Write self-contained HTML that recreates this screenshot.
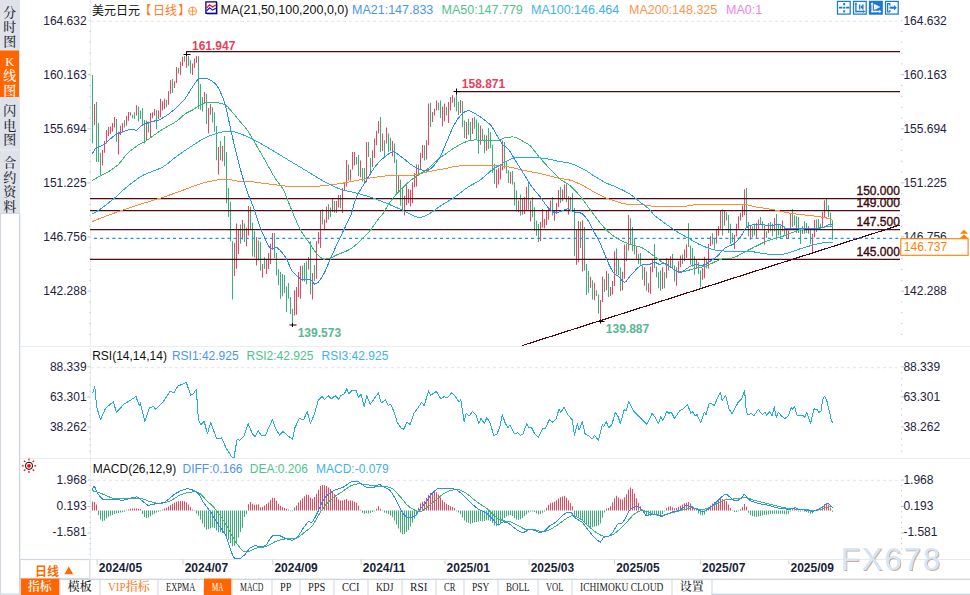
<!DOCTYPE html><html><head><meta charset="utf-8"><title>USDJPY</title><style>html,body{margin:0;padding:0;background:#fff;width:970px;height:595px;overflow:hidden}</style></head><body><svg width="970" height="595" viewBox="0 0 970 595" style="position:absolute;left:0;top:0">
<rect width="970" height="595" fill="#fff"/>
<rect x="0" y="0" width="20" height="595" fill="#fff"/>
<rect x="0" y="0" width="19.5" height="213.5" fill="#e0e2ea"/>
<rect x="0" y="50.5" width="19.5" height="46.5" fill="#ff6600"/>
<rect x="0" y="149.5" width="19.5" height="1" fill="#eef0f4"/>
<rect x="0" y="213.5" width="1" height="381" fill="#cfd6e2"/>
<rect x="19" y="213.5" width="1.3" height="381" fill="#cdd5e1"/>
<rect x="19" y="0" width="1" height="213.5" fill="#dfe3ea"/>
<rect x="0" y="213" width="20" height="1" fill="#cfd6e2"/>
<rect x="0" y="593.5" width="20" height="1.2" fill="#cfd6e2"/>
<text text-anchor="middle" font-size="13" font-weight="500" fill="#262b36" font-family="'Liberation Serif','Noto Serif CJK SC',serif"><tspan x="9.7" y="16.7">分</tspan><tspan x="9.7" y="31">时</tspan><tspan x="9.7" y="45.7">图</tspan></text>
<text text-anchor="middle" font-size="13" font-weight="500" fill="#fff" font-family="'Liberation Serif','Noto Serif CJK SC',serif"><tspan x="9.7" y="66" font-size="12.5" font-weight="400">K</tspan><tspan x="9.7" y="80.4">线</tspan><tspan x="9.7" y="94.7">图</tspan></text>
<text text-anchor="middle" font-size="13" font-weight="500" fill="#262b36" font-family="'Liberation Serif','Noto Serif CJK SC',serif"><tspan x="9.7" y="115.2">闪</tspan><tspan x="9.7" y="129.7">电</tspan><tspan x="9.7" y="144.2">图</tspan></text>
<text text-anchor="middle" font-size="13" font-weight="500" fill="#262b36" font-family="'Liberation Serif','Noto Serif CJK SC',serif"><tspan x="9.7" y="167.2">合</tspan><tspan x="9.7" y="181.7">约</tspan><tspan x="9.7" y="196.2">资</tspan><tspan x="9.7" y="210.7">料</tspan></text>
<rect x="20" y="346" width="950" height="1" fill="#e8edf2"/>
<rect x="20" y="458" width="950" height="1" fill="#e8edf2"/>
<rect x="20" y="559" width="950" height="1" fill="#e4eaf0"/>
<rect x="20" y="578.7" width="950" height="1.2" fill="#c9d1db"/>
<rect x="711.5" y="593.7" width="259" height="1.2" fill="#c4ccd6"/>
<line x1="91" x2="897" y1="21.4" y2="21.4" stroke="#e3e9ee" stroke-width="1.1" stroke-dasharray="3 3"/>
<line x1="91" x2="897" y1="367.6" y2="367.6" stroke="#e3e9ee" stroke-width="1.1" stroke-dasharray="3 3"/>
<line x1="91" x2="897" y1="480.4" y2="480.4" stroke="#e3e9ee" stroke-width="1.1" stroke-dasharray="3 3"/>
<rect x="90" y="0" width="1" height="559" fill="#e9eef3"/>
<rect x="89.3" y="20.1" width="1.2" height="1" fill="#b9c4d0"/>
<rect x="901" y="20.1" width="1.2" height="1" fill="#b9c4d0"/>
<rect x="89.3" y="30.9" width="1.2" height="1" fill="#b9c4d0"/>
<rect x="901" y="30.9" width="1.2" height="1" fill="#b9c4d0"/>
<rect x="89.3" y="41.7" width="1.2" height="1" fill="#b9c4d0"/>
<rect x="901" y="41.7" width="1.2" height="1" fill="#b9c4d0"/>
<rect x="89.3" y="52.6" width="1.2" height="1" fill="#b9c4d0"/>
<rect x="901" y="52.6" width="1.2" height="1" fill="#b9c4d0"/>
<rect x="89.3" y="63.4" width="1.2" height="1" fill="#b9c4d0"/>
<rect x="901" y="63.4" width="1.2" height="1" fill="#b9c4d0"/>
<rect x="87.5" y="74.2" width="3" height="1" fill="#b9c4d0"/>
<rect x="901" y="74.2" width="3" height="1" fill="#b9c4d0"/>
<rect x="89.3" y="85" width="1.2" height="1" fill="#b9c4d0"/>
<rect x="901" y="85" width="1.2" height="1" fill="#b9c4d0"/>
<rect x="89.3" y="95.8" width="1.2" height="1" fill="#b9c4d0"/>
<rect x="901" y="95.8" width="1.2" height="1" fill="#b9c4d0"/>
<rect x="89.3" y="106.7" width="1.2" height="1" fill="#b9c4d0"/>
<rect x="901" y="106.7" width="1.2" height="1" fill="#b9c4d0"/>
<rect x="89.3" y="117.5" width="1.2" height="1" fill="#b9c4d0"/>
<rect x="901" y="117.5" width="1.2" height="1" fill="#b9c4d0"/>
<rect x="87.5" y="128.3" width="3" height="1" fill="#b9c4d0"/>
<rect x="901" y="128.3" width="3" height="1" fill="#b9c4d0"/>
<rect x="89.3" y="139.1" width="1.2" height="1" fill="#b9c4d0"/>
<rect x="901" y="139.1" width="1.2" height="1" fill="#b9c4d0"/>
<rect x="89.3" y="149.9" width="1.2" height="1" fill="#b9c4d0"/>
<rect x="901" y="149.9" width="1.2" height="1" fill="#b9c4d0"/>
<rect x="89.3" y="160.8" width="1.2" height="1" fill="#b9c4d0"/>
<rect x="901" y="160.8" width="1.2" height="1" fill="#b9c4d0"/>
<rect x="89.3" y="171.6" width="1.2" height="1" fill="#b9c4d0"/>
<rect x="901" y="171.6" width="1.2" height="1" fill="#b9c4d0"/>
<rect x="87.5" y="182.4" width="3" height="1" fill="#b9c4d0"/>
<rect x="901" y="182.4" width="3" height="1" fill="#b9c4d0"/>
<rect x="89.3" y="193.2" width="1.2" height="1" fill="#b9c4d0"/>
<rect x="901" y="193.2" width="1.2" height="1" fill="#b9c4d0"/>
<rect x="89.3" y="204" width="1.2" height="1" fill="#b9c4d0"/>
<rect x="901" y="204" width="1.2" height="1" fill="#b9c4d0"/>
<rect x="89.3" y="214.9" width="1.2" height="1" fill="#b9c4d0"/>
<rect x="901" y="214.9" width="1.2" height="1" fill="#b9c4d0"/>
<rect x="89.3" y="225.7" width="1.2" height="1" fill="#b9c4d0"/>
<rect x="901" y="225.7" width="1.2" height="1" fill="#b9c4d0"/>
<rect x="87.5" y="236.5" width="3" height="1" fill="#b9c4d0"/>
<rect x="901" y="236.5" width="3" height="1" fill="#b9c4d0"/>
<rect x="89.3" y="247.3" width="1.2" height="1" fill="#b9c4d0"/>
<rect x="901" y="247.3" width="1.2" height="1" fill="#b9c4d0"/>
<rect x="89.3" y="258.1" width="1.2" height="1" fill="#b9c4d0"/>
<rect x="901" y="258.1" width="1.2" height="1" fill="#b9c4d0"/>
<rect x="89.3" y="269" width="1.2" height="1" fill="#b9c4d0"/>
<rect x="901" y="269" width="1.2" height="1" fill="#b9c4d0"/>
<rect x="89.3" y="279.8" width="1.2" height="1" fill="#b9c4d0"/>
<rect x="901" y="279.8" width="1.2" height="1" fill="#b9c4d0"/>
<rect x="87.5" y="290.6" width="3" height="1" fill="#b9c4d0"/>
<rect x="901" y="290.6" width="3" height="1" fill="#b9c4d0"/>
<rect x="89.3" y="301.4" width="1.2" height="1" fill="#b9c4d0"/>
<rect x="901" y="301.4" width="1.2" height="1" fill="#b9c4d0"/>
<rect x="89.3" y="312.2" width="1.2" height="1" fill="#b9c4d0"/>
<rect x="901" y="312.2" width="1.2" height="1" fill="#b9c4d0"/>
<rect x="89.3" y="323.1" width="1.2" height="1" fill="#b9c4d0"/>
<rect x="901" y="323.1" width="1.2" height="1" fill="#b9c4d0"/>
<rect x="89.3" y="333.9" width="1.2" height="1" fill="#b9c4d0"/>
<rect x="901" y="333.9" width="1.2" height="1" fill="#b9c4d0"/>
<rect x="87.5" y="366.3" width="3" height="1" fill="#b9c4d0"/>
<rect x="901" y="366.3" width="3" height="1" fill="#b9c4d0"/>
<rect x="89.3" y="372.3" width="1.2" height="1" fill="#b9c4d0"/>
<rect x="901" y="372.3" width="1.2" height="1" fill="#b9c4d0"/>
<rect x="89.3" y="378.3" width="1.2" height="1" fill="#b9c4d0"/>
<rect x="901" y="378.3" width="1.2" height="1" fill="#b9c4d0"/>
<rect x="89.3" y="384.4" width="1.2" height="1" fill="#b9c4d0"/>
<rect x="901" y="384.4" width="1.2" height="1" fill="#b9c4d0"/>
<rect x="89.3" y="390.4" width="1.2" height="1" fill="#b9c4d0"/>
<rect x="901" y="390.4" width="1.2" height="1" fill="#b9c4d0"/>
<rect x="87.5" y="396.4" width="3" height="1" fill="#b9c4d0"/>
<rect x="901" y="396.4" width="3" height="1" fill="#b9c4d0"/>
<rect x="89.3" y="402.4" width="1.2" height="1" fill="#b9c4d0"/>
<rect x="901" y="402.4" width="1.2" height="1" fill="#b9c4d0"/>
<rect x="89.3" y="408.4" width="1.2" height="1" fill="#b9c4d0"/>
<rect x="901" y="408.4" width="1.2" height="1" fill="#b9c4d0"/>
<rect x="89.3" y="414.5" width="1.2" height="1" fill="#b9c4d0"/>
<rect x="901" y="414.5" width="1.2" height="1" fill="#b9c4d0"/>
<rect x="89.3" y="420.5" width="1.2" height="1" fill="#b9c4d0"/>
<rect x="901" y="420.5" width="1.2" height="1" fill="#b9c4d0"/>
<rect x="87.5" y="426.5" width="3" height="1" fill="#b9c4d0"/>
<rect x="901" y="426.5" width="3" height="1" fill="#b9c4d0"/>
<rect x="89.3" y="432.5" width="1.2" height="1" fill="#b9c4d0"/>
<rect x="901" y="432.5" width="1.2" height="1" fill="#b9c4d0"/>
<rect x="89.3" y="438.5" width="1.2" height="1" fill="#b9c4d0"/>
<rect x="901" y="438.5" width="1.2" height="1" fill="#b9c4d0"/>
<rect x="89.3" y="444.6" width="1.2" height="1" fill="#b9c4d0"/>
<rect x="901" y="444.6" width="1.2" height="1" fill="#b9c4d0"/>
<rect x="89.3" y="450.6" width="1.2" height="1" fill="#b9c4d0"/>
<rect x="901" y="450.6" width="1.2" height="1" fill="#b9c4d0"/>
<rect x="87.5" y="479.5" width="3" height="1" fill="#b9c4d0"/>
<rect x="901" y="479.5" width="3" height="1" fill="#b9c4d0"/>
<rect x="89.3" y="484.8" width="1.2" height="1" fill="#b9c4d0"/>
<rect x="901" y="484.8" width="1.2" height="1" fill="#b9c4d0"/>
<rect x="89.3" y="490.1" width="1.2" height="1" fill="#b9c4d0"/>
<rect x="901" y="490.1" width="1.2" height="1" fill="#b9c4d0"/>
<rect x="89.3" y="495.4" width="1.2" height="1" fill="#b9c4d0"/>
<rect x="901" y="495.4" width="1.2" height="1" fill="#b9c4d0"/>
<rect x="89.3" y="500.7" width="1.2" height="1" fill="#b9c4d0"/>
<rect x="901" y="500.7" width="1.2" height="1" fill="#b9c4d0"/>
<rect x="87.5" y="506" width="3" height="1" fill="#b9c4d0"/>
<rect x="901" y="506" width="3" height="1" fill="#b9c4d0"/>
<rect x="89.3" y="511.3" width="1.2" height="1" fill="#b9c4d0"/>
<rect x="901" y="511.3" width="1.2" height="1" fill="#b9c4d0"/>
<rect x="89.3" y="516.6" width="1.2" height="1" fill="#b9c4d0"/>
<rect x="901" y="516.6" width="1.2" height="1" fill="#b9c4d0"/>
<rect x="89.3" y="521.9" width="1.2" height="1" fill="#b9c4d0"/>
<rect x="901" y="521.9" width="1.2" height="1" fill="#b9c4d0"/>
<rect x="89.3" y="527.2" width="1.2" height="1" fill="#b9c4d0"/>
<rect x="901" y="527.2" width="1.2" height="1" fill="#b9c4d0"/>
<rect x="87.5" y="532.5" width="3" height="1" fill="#b9c4d0"/>
<rect x="901" y="532.5" width="3" height="1" fill="#b9c4d0"/>
<rect x="89.3" y="537.8" width="1.2" height="1" fill="#b9c4d0"/>
<rect x="901" y="537.8" width="1.2" height="1" fill="#b9c4d0"/>
<rect x="89.3" y="543.1" width="1.2" height="1" fill="#b9c4d0"/>
<rect x="901" y="543.1" width="1.2" height="1" fill="#b9c4d0"/>
<rect x="89.3" y="548.4" width="1.2" height="1" fill="#b9c4d0"/>
<rect x="901" y="548.4" width="1.2" height="1" fill="#b9c4d0"/>
<rect x="89.3" y="553.7" width="1.2" height="1" fill="#b9c4d0"/>
<rect x="901" y="553.7" width="1.2" height="1" fill="#b9c4d0"/>
<path d="M94.5 104V125M102.5 150V165.4M104.5 141V152.8M106.5 130V143.5M108.5 127V136M110.5 126.5V134M112.5 123V131.8M114.5 117V127.4M118.5 131.8V154.5M120.5 125.7V135M122.5 123V132.6M126.5 116V125.7M128.5 112V120.7M130.5 112.3V115.6M136.5 105.2V115.6M146.5 120.5V141M150.5 113V137M152.5 112.3V118.2M154.5 109V115.6M158.5 110.6V119M160.5 98.8V117.3M162.5 101.3V110.6M164.5 98.8V109M168.5 91.3V104.7M170.5 80V93.8M174.5 81.2V87.9M176.5 66.9V82.9M180.5 61.8V75M182.5 56.8V66M186.5 53.1V67.7M192.5 63.5V75M194.5 58.5V67.7M196.5 56V62.7M204.5 92.1V103M208.5 108V133.4M210.5 103.9V114.8M218.5 146.9V174.6M222.5 146V161.2M234.5 243V276M236.5 223.6V268.7M238.5 229.5V253.9M242.5 220V239.6M246.5 227.8V246.3M248.5 206V235.4M256.5 237V265.6M262.5 264V277.7M266.5 259.7V274M268.5 253V269M270.5 243.8V264M272.5 232.9V249.7M294.5 290.3V315.5M296.5 287V314.7M298.5 272V297M300.5 266V298.7M308.5 257V269.5M312.5 273V299.6M316.5 241.3V278.8M318.5 232V243.8M320.5 210.2V248M324.5 219.4V230.3M326.5 206.8V222.8M332.5 198.4V211.8M336.5 200.9V212.7M338.5 195V207.6M342.5 188V213M344.5 183V190.6M346.5 160V186.4M350.5 169.6V180.5M352.5 152V169.6M354.5 152V165.4M360.5 160.4V177.2M366.5 141.9V182.2M372.5 150.3V167M374.5 138.5V157.9M376.5 131V145.3M378.5 120.9V133.5M382.5 133.5V151.1M386.5 127.6V143.6M392.5 141V156.2M398.5 175.5V192.3M404.5 195.7V215.5M406.5 183.9V205M408.5 189V203.2M410.5 189.8V206.6M412.5 182.2V203.2M414.5 173V187.3M416.5 164.6V186.4M420.5 152.8V169.6M422.5 144.9V157.9M426.5 140.2V159.5M428.5 103.6V145.3M432.5 112V122.1M434.5 108.7V115.4M436.5 100.6V110.3M442.5 106.6V126.3M444.5 103.6V121.3M448.5 101.9V122.9M450.5 96.9V110.3M452.5 94.9V102.8M460.5 99.9V112.9M466.5 122.1V138.9M472.5 117.9V133.9M480.5 125.5V144.8M486.5 135.5V150.7M496.5 169.4V187.9M498.5 167.7V184.5M500.5 165.8V179.5M502.5 140.6V170.3M510.5 171.9V183.7M518.5 200.5V212.3M522.5 198.8V214.8M524.5 197.1V213.9M526.5 187V210.6M530.5 200.5V221.5M540.5 222V241M542.5 208.9V227.4M544.5 219V228.2M546.5 210.6V224.9M548.5 207.2V219.8M550.5 200.5V210.6M554.5 210.6V220.7M556.5 203V213.9M558.5 190.1V207.2M562.5 189.6V201.3M564.5 184.5V198M568.5 196.3V214.8M576.5 229.4V264.7M578.5 221V262.2M582.5 220.2V271.4M590.5 276.8V287.7M594.5 282.7V300.3M600.5 300V321.3M602.5 276.8V302M606.5 271V290.3M610.5 286.9V296.1M612.5 281V294.5M614.5 251.3V286M622.5 271.8V290.3M624.5 244.5V278.8M628.5 215.1V250.4M636.5 247V258.8M644.5 267.2V285.7M648.5 283.2V292.4M650.5 266.4V294.1M652.5 259.7V272.3M662.5 267.2V289M666.5 258V278.2M670.5 256.3V266.4M676.5 267.2V285.7M678.5 261.3V273.1M680.5 255.5V267.2M684.5 249.6V261.3M686.5 244.5V258M696.5 259.7V268M702.5 268V279.8M704.5 256.8V278.2M708.5 244V268.6M710.5 236.2V246M716.5 230V243.5M718.5 226.2V235.8M720.5 211.1V228.8M724.5 211.1V225.4M734.5 234.7V248.9M736.5 223.7V236.3M738.5 216.2V228.8M740.5 212.8V220.4M742.5 205.6V217M744.5 189.3V215.3M750.5 225.4V239.7M756.5 222.9V238M758.5 219.5V229.6M764.5 225.4V244.7M768.5 222.9V233M774.5 217.9V231.3M782.5 220.4V231.3M786.5 229.6V238M788.5 230.5V238.9M790.5 213.7V228.8M802.5 226.3V233.8M808.5 226.3V233.8M812.5 233.8V253.2M814.5 220V237.2M822.5 212V227.1M824.5 200.2V217.9" stroke="#e8465c" stroke-width="1.05" fill="none"/>
<path d="M92.5 75V143.5M96.5 102V162M98.5 123V162M100.5 152.8V176.3M116.5 119V141.8M124.5 120.3V127.4M132.5 114.8V118.2M134.5 112.3V119M138.5 106.4V121.5M140.5 110.6V119M142.5 108V124M144.5 120V143.5M148.5 121.5V132.6M156.5 110.3V129.2M166.5 99.7V107.2M172.5 79V93M178.5 67.7V73.6M184.5 56V61.8M188.5 56V66M190.5 60.2V73.6M198.5 56V108.9M200.5 84V109.7M202.5 97.1V111.4M206.5 93.8V124M212.5 107.2V122.5M214.5 112.3V131.8M216.5 126V160.3M220.5 141V160.3M224.5 136V166.2M226.5 152V203.2M228.5 188V217M230.5 201.8V241.3M232.5 241.3V299.6M240.5 224.5V243.8M244.5 223.6V242M250.5 206.8V229.5M252.5 222.8V256.4M254.5 231.2V257.2M258.5 240.4V260.6M260.5 242V270.7M264.5 257.2V269M274.5 232.9V258M276.5 253V275.5M278.5 269V285.3M280.5 272V298.7M282.5 274V296.2M284.5 275V292.9M286.5 286.6V312.2M288.5 283V298.7M290.5 297V313.9M292.5 308.8V324.8M302.5 265.6V281.3M304.5 263V281.5M306.5 261.2V284.3M310.5 241.3V294.5M314.5 264.9V281M322.5 209.3V224.5M328.5 204.3V219.4M330.5 207.6V216.9M334.5 200.9V212.7M340.5 195V208.3M348.5 164.6V180.5M356.5 157V164.6M358.5 155V176.3M362.5 168V181.4M364.5 168V183M368.5 141.9V157M370.5 157.9V173M380.5 117V152M384.5 140.2V157.9M388.5 133.5V152M390.5 137.7V151.1M394.5 143.6V162.9M396.5 159.5V193.2M400.5 179.7V205.8M402.5 189V211.6M418.5 164.6V175.5M424.5 145.3V160.4M430.5 102.8V127.1M438.5 102.8V110.3M440.5 100.6V117.9M446.5 107V115.4M454.5 97.7V107M456.5 91.8V111.2M458.5 101.9V115M462.5 101.1V127.1M464.5 120.4V138M468.5 118.7V134.7M470.5 122.1V140.6M474.5 117V128.8M476.5 119.6V139.7M478.5 122.9V153.7M482.5 128.8V140.6M484.5 134.7V153.2M488.5 128V149M490.5 132.2V148.2M492.5 144.8V172.8M494.5 163.8V183.7M504.5 141.9V168.6M506.5 161.8V173.6M508.5 170.3V182.9M512.5 171.1V184.5M514.5 182V205.5M516.5 190.4V211.4M520.5 194.6V215.6M528.5 182.9V209.7M532.5 197.1V217.3M534.5 207.2V230.8M536.5 220.7V235.8M538.5 224V242M552.5 197.1V215.6M560.5 187V203M566.5 182.9V202.2M570.5 197.1V209.7M572.5 192.9V210.6M574.5 208V256.3M580.5 221.8V247.9M584.5 226.9V270.6M586.5 263.9V295M588.5 271V292.8M592.5 280.2V299.5M596.5 290.3V296M598.5 294.5V313.8M604.5 279.3V292M608.5 273.4V297M616.5 248.4V274.3M618.5 259.7V275.1M620.5 267.6V291.1M626.5 243.7V261.3M630.5 218.2V244.5M632.5 226.9V251.3M634.5 238.7V254.6M638.5 253.8V263.9M640.5 252.9V264.7M642.5 265.5V279.8M646.5 271.4V290.8M654.5 244V268M656.5 266.4V277.3M658.5 272.3V288.2M660.5 270.6V290.8M664.5 272.3V288.2M668.5 259.7V270.6M672.5 254.1V268.9M674.5 265.5V281.5M682.5 254.6V263.9M688.5 223.2V247M690.5 245.4V264.7M692.5 247.9V266.4M694.5 256.3V274.8M698.5 262.2V274M700.5 270.6V287.4M706.5 259.3V268.6M712.5 233.2V244.5M714.5 237.9V248.8M722.5 209.5V235.5M726.5 212.3V220.4M728.5 215V233M730.5 223.7V243.9M732.5 233V242.2M746.5 188.1V227.1M748.5 222V236.3M752.5 226.3V237.2M754.5 223.7V235.5M760.5 217V224.6M762.5 221.2V228.8M766.5 231.3V238M770.5 222V231.3M772.5 223.7V236.3M776.5 214V239.7M778.5 223.7V235.5M780.5 225.4V235.5M784.5 226.3V234.7M792.5 209V227.1M794.5 215.3V225.4M796.5 216.2V233M798.5 217V233M800.5 228.8V243.9M804.5 221.2V233.8M806.5 222.9V233M810.5 228.8V243.9M816.5 219.5V232.1M818.5 219V228.8M820.5 223.7V228.8M826.5 198.9V211.1M828.5 205.3V217M830.5 212.8V225.4M832.5 220V239.7" stroke="#3fac7a" stroke-width="1.05" fill="none"/>
<line x1="186.3" x2="900" y1="51.5" y2="51.5" stroke="#4b0c14" stroke-width="1.25"/>
<line x1="456.3" x2="900" y1="91.5" y2="91.5" stroke="#4b0c14" stroke-width="1.25"/>
<line x1="90" x2="900" y1="198.5" y2="198.5" stroke="#4b0c14" stroke-width="1.25"/>
<line x1="90" x2="900" y1="210.5" y2="210.5" stroke="#4b0c14" stroke-width="1.25"/>
<line x1="90" x2="900" y1="229.5" y2="229.5" stroke="#4b0c14" stroke-width="1.25"/>
<line x1="90" x2="900" y1="259.4" y2="259.4" stroke="#4b0c14" stroke-width="1.25"/>
<line x1="521.8" y1="345.7" x2="900" y2="225" stroke="#4b0c14" stroke-width="1.2" shape-rendering="crispEdges"/>
<line x1="91" x2="898.5" y1="238.4" y2="238.4" stroke="#1e8fff" stroke-width="1.25" stroke-dasharray="3 3.07" stroke-dashoffset="3"/>
<path d="M92.4 221.5C93.3 221.1 93.7 220.8 98 219.2C102.3 217.5 111.6 214 118.3 211.6C125 209.2 131 207.3 138.4 204.9C145.8 202.5 155.5 199.7 162.8 197.3C170.1 194.9 176 192.8 182 190.6C188 188.4 193.7 185.9 199 184.2C204.3 182.5 209.4 181.3 214 180.5C218.6 179.7 222.3 179.1 226.5 179.2C230.7 179.3 235.8 181 239.3 181.3C242.8 181.7 243.4 180.9 247.7 181.3C252 181.7 258.8 182.7 265 183.5C271.2 184.3 279.2 185.4 285 186C290.8 186.6 294.2 187 300 187C305.8 187 313.3 186.6 320 186C326.7 185.4 333.9 184.5 340 183.6C346.1 182.7 351.2 181.5 356.8 180.5C362.4 179.5 368 178.3 373.6 177.5C379.2 176.7 383.7 175.9 390.4 175.5C397.1 175.1 407.8 175.6 414 175C420.2 174.4 422.4 172.8 427.4 171.8C432.4 170.8 440.1 169.6 444.2 168.8C448.3 168 448.8 167.6 452.1 167C455.4 166.4 459.1 165.8 463.9 165.5C468.7 165.2 475.7 165.2 480.7 165.2C485.7 165.2 489.8 165.1 494.1 165.3C498.5 165.5 501.9 165.8 506.8 166.6C511.7 167.4 518 169.1 523.6 170.3C529.2 171.5 534.8 172.3 540.4 173.6C546 174.8 552.2 176.7 557.2 177.8C562.2 178.9 566.2 178.9 570.7 180.3C575.2 181.7 580.2 184.2 584.1 186.2C588 188.2 590.6 190.1 594.2 192.1C597.9 194.1 602.4 196.5 606 198C609.6 199.5 612.9 200.3 616 201.3C619.1 202.3 620.4 203.4 624.5 203.9C628.6 204.4 635.8 204.1 640.7 204.5C645.6 204.9 649.4 206 654.1 206.4C658.9 206.8 664.2 206.7 669.2 206.7C674.2 206.7 679.6 206.8 684.4 206.4C689.2 206 692.4 204.7 697.8 204.4C703.2 204.1 709.1 204.4 716.8 204.4C724.4 204.4 737.2 204 743.7 204.4C750.2 204.8 750.5 206 755.5 206.9C760.5 207.8 768 208.7 773.9 209.8C779.8 210.9 785.2 212.4 790.8 213.3C796.4 214.2 802.6 214.7 807.6 215.3C812.6 215.9 817.4 216.4 821 217C824.6 217.6 827.4 218.1 829.4 218.7C831.4 219.3 832.2 220.1 832.8 220.4" stroke="#fb8c3e" stroke-width="1" fill="none" stroke-linejoin="round" shape-rendering="crispEdges"/>
<path d="M92.4 214.1C93.7 213.2 96.7 211.7 100.4 209C104.1 206.3 110.1 201.8 114.4 198.2C118.8 194.6 121.8 191 126.5 187.2C131.2 183.4 136.5 178.9 142.6 175.5C148.7 172.1 157.1 170.2 162.8 167C168.5 163.8 172 159.7 177 156.1C182 152.5 188.2 148.3 193 145.2C197.8 142.1 201.7 139.6 205.6 137.6C209.5 135.6 213.2 134.5 216.7 133.4C220.2 132.3 223.6 131.4 226.5 131.1C229.4 130.8 230.7 130.9 234.2 131.8C237.7 132.8 242.6 134.4 247.7 136.8C252.8 139.2 258.8 142.5 265 146C271.2 149.5 278.3 154 285 158C291.7 162 298.3 166 305 170C311.7 174 319.2 178.8 325 182C330.8 185.2 334.7 187.1 340 189C345.3 190.9 351.2 191.7 356.8 193.2C362.4 194.7 368 196.2 373.6 198.2C379.2 200.2 385.3 202.9 390.4 205C395.4 207.1 400.2 209.1 403.9 210.8C407.5 212.5 409.8 213.9 412.3 215C414.8 216.1 416.5 217.5 419 217.5C421.5 217.5 423.8 216.9 427.4 215C431 213.1 436.3 208.7 440.8 205.8C445.3 202.9 449.8 200.5 454.3 197.4C458.8 194.3 463.5 190.1 467.7 187.3C471.9 184.5 475.6 183.3 479.5 180.5C483.4 177.7 488.2 172.9 491.3 170.5C494.4 168.1 495.5 167.7 498.4 166C501.3 164.3 505.4 161.6 508.5 160.2C511.6 158.8 513 157.8 516.9 157.3C520.8 156.8 527.2 157.1 532 157.3C536.8 157.5 541.3 157.9 545.5 158.5C549.7 159.1 553 160.2 557.2 161C561.4 161.8 566.2 162.1 570.7 163.5C575.2 164.9 580.2 167.3 584.1 169.4C588 171.5 590.6 173.8 594.2 176.1C597.9 178.3 602.4 181.1 606 182.9C609.6 184.7 612.1 185.2 616 187C619.9 188.8 625.3 191.1 629.5 193.8C633.7 196.5 637.9 200.3 641.3 203C644.7 205.7 647.6 207.7 649.7 209.7C651.8 211.7 651.7 212.9 654.1 215.1C656.5 217.3 660.6 220 664.2 222.7C667.9 225.4 672.1 228.6 676 231.1C679.9 233.6 683.8 235.6 687.7 237.8C691.6 240 696 242.8 699.5 244.5C703 246.2 705.5 247.1 708.4 248.1C711.3 249.1 712.6 249.7 716.8 250.3C721 250.9 728 251.3 733.6 251.5C739.2 251.7 744.8 251.1 750.4 251.5C756 251.9 761.6 253.6 767.2 254C772.8 254.4 779.8 254.4 784 254C788.2 253.6 789.6 252.4 792.4 251.5C795.2 250.6 797.1 249.7 800.8 248.6C804.4 247.5 810.4 245.7 814.3 244.7C818.2 243.7 821.3 243 824.4 242.6C827.5 242.2 831.4 242.3 832.8 242.2" stroke="#29abe2" stroke-width="1" fill="none" stroke-linejoin="round" shape-rendering="crispEdges"/>
<path d="M92.4 180.5C93.7 179.7 97.8 177.2 100.4 175.8C103 174.4 105 173.9 108 172C111 170.1 115.2 167.4 118.3 164.5C121.4 161.6 123.4 157.6 126.5 154.5C129.6 151.4 133.7 148.1 136.7 146C139.7 143.9 142.3 143.2 144.6 141.8C146.9 140.4 147.7 139.7 150.7 137.6C153.7 135.5 158.4 132 162.8 129.2C167.2 126.4 173.3 123.5 177 121C180.7 118.5 182.3 115.9 185 114C187.7 112.1 190.7 111.1 193 109.7C195.3 108.3 197.1 106.6 199 105.5C200.9 104.4 201.7 103.5 204.6 103C207.5 102.5 213.3 102.4 216.7 102.7C220.1 103 222.4 103.1 225 104.7C227.6 106.3 230.1 109.6 232.5 112.3C234.9 115 236.8 117.6 239.3 120.7C241.8 123.8 243.9 125.1 247.7 130.8C251.5 136.5 257.4 147.1 262 155C266.6 162.9 271.4 172.2 275 178C278.6 183.8 280.8 184.9 283.5 190C286.2 195.1 288.2 201.9 291 208.5C293.8 215.1 297.1 223.5 300.3 229.5C303.5 235.5 307.6 240.5 310.4 244.6C313.2 248.7 314.9 251.5 317 253.9C319.1 256.3 320.8 258.2 323 258.9C325.2 259.6 328.1 258.7 330.5 258C332.9 257.3 333.8 256.2 337.2 254.7C340.6 253.2 346.5 251.5 350.7 248.8C354.9 246.1 359.1 241.9 362.5 238.7C365.9 235.5 368.1 233 370.9 229.5C373.7 226 377.4 220.1 379.3 217.7C381.2 215.3 380.1 217.7 382 215C383.9 212.3 387.3 205.8 390.4 201.6C393.5 197.4 397.1 193.3 400.5 189.8C403.9 186.3 407.5 183 410.6 180.5C413.7 178 415.9 176.8 419 174.7C422.1 172.6 426 170.4 429.1 167.9C432.2 165.4 434.7 161.9 437.5 159.5C440.3 157.1 443.1 155.6 445.9 153.7C448.7 151.8 451.5 149.6 454.3 147.8C457.1 146.1 459.9 144.5 462.7 143.2C465.5 141.9 467.7 140.7 471.1 140.2C474.5 139.7 479.5 140.2 482.9 140.2C486.3 140.2 488.7 140.1 491.3 140.2C493.9 140.3 496.2 141 498.3 140.6C500.4 140.2 501.4 138.6 504.2 138C507 137.4 511.7 136.5 515.1 137.2C518.5 137.9 521.9 140.9 524.4 142.3C526.9 143.8 527.6 143.2 530.3 145.9C533 148.6 537 154.6 540.4 158.5C543.8 162.4 547.1 165.9 550.5 169.4C553.9 172.9 557.2 176.7 560.6 179.5C564 182.3 567.2 183.1 570.7 186.2C574.2 189.3 578.2 193.9 581.6 198C585 202.1 587.4 206.1 590.8 210.6C594.2 215.1 598.7 221.4 602 225.2C605.3 229 607.3 231.1 610.4 233.6C613.5 236.1 617.1 238.5 620.5 240.3C623.9 242.1 627 243.2 630.6 244.5C634.2 245.8 639 246.3 642.4 247.9C645.8 249.5 647.7 251.6 650.8 253.8C653.9 256 657.7 259.2 660.8 261.3C663.9 263.4 666.4 264.7 669.2 266.4C672 268.1 675.1 270.6 677.6 271.4C680.1 272.2 681.6 271.9 684.4 271.4C687.2 270.9 691.1 269.4 694.5 268.6C697.9 267.8 701.9 267.1 704.5 266.4C707.1 265.6 707.2 265.3 710.1 264.1C713 262.9 717.9 260.1 721.8 259C725.7 257.9 730 258.8 733.6 257.7C737.2 256.6 740.3 254.3 743.7 252.6C747.1 250.9 749.9 249.2 753.8 247.3C757.7 245.4 763.3 242.5 767.2 240.9C771.1 239.3 773.9 239 777.3 238C780.7 237 784 235.9 787.4 234.7C790.8 233.4 794.1 231.6 797.5 230.5C800.9 229.4 803.7 228.8 807.6 228.4C811.5 228 817.6 228.2 821 227.9C824.4 227.6 825.7 226.6 827.7 226.3C829.7 226 831.9 226.3 832.8 226.3" stroke="#3cb878" stroke-width="1" fill="none" stroke-linejoin="round" shape-rendering="crispEdges"/>
<path d="M92.4 153.6C93.1 152.6 94.4 149.2 96.4 147.7C98.4 146.2 101.5 146.4 104.5 144.4C107.5 142.4 110.7 137.8 114.4 135.5C118.1 133.2 123.5 131.5 126.5 130.4C129.5 129.3 130.8 129.3 132.5 129.2C134.2 129.1 135 130.7 136.7 130C138.4 129.3 140.3 126.3 142.6 125C144.9 123.7 148 122.8 150.7 122C153.4 121.2 156.9 120.5 158.6 120C160.3 119.5 159.1 120 160.8 119C162.5 118 166.1 116 168.8 114C171.5 112 174.2 109.7 176.9 107.2C179.6 104.7 182.3 102.3 185 98.8C187.7 95.3 190.7 89.5 193 86.2C195.3 82.9 196.8 80.3 198.6 79C200.4 77.7 202.3 78.2 204 78.3C205.7 78.4 206.9 78.3 209 79.5C211.1 80.7 214 81.3 216.7 85.4C219.4 89.5 222.6 96.4 225 103.9C227.4 111.4 228.5 120.2 230.9 130.5C233.3 140.8 236.7 155.4 239.3 165.4C242 175.4 244.5 183.7 246.8 190.6C249.1 197.5 250.9 200.5 253.2 206.8C255.5 213.2 258 221.8 260.8 228.7C263.6 235.6 267.4 244.9 270 248C272.6 251.1 274 245.8 276.7 247.5C279.4 249.2 283.5 254.1 286 258C288.5 261.9 289.8 267.5 291.9 270.7C294 273.9 296.8 275.9 298.6 277.4C300.4 278.9 300.8 279.2 302.8 279.6C304.8 280 308.4 279.1 310.4 279.9C312.4 280.6 313.2 283.8 314.6 284.1C316 284.4 317.1 283.6 318.8 281.6C320.5 279.7 322.4 276.9 324.6 272.4C326.8 267.9 329 261.8 332.2 254.7C335.4 247.5 340.9 236.1 344 229.5C347.1 222.9 348.9 220.2 350.9 215C352.9 209.8 353.6 203.7 356 198.2C358.4 192.7 361.8 187.7 365.2 182.2C368.6 176.7 372.9 169.6 376.1 165.4C379.3 161.2 381.8 159.2 384.5 157C387.2 154.8 390.1 152.6 392.1 152C394.1 151.4 394.2 152.1 396.3 153.3C398.4 154.6 402 157.5 404.7 159.5C407.4 161.5 409.6 163.7 412.3 165.4C415 167.1 418.2 168.8 420.7 169.6C423.2 170.4 425.2 171.2 427.4 170.5C429.6 169.8 431.9 167.8 434.1 165.4C436.3 163 438.2 160.4 440.5 156C442.8 151.6 445.7 144 447.9 138.9C450.1 133.8 451.6 129.6 453.8 125.5C456 121.4 458.9 117 461.3 114.5C463.7 112 465.9 111.1 468 110.8C470.1 110.5 471.2 111.4 473.9 112.9C476.6 114.4 481.1 117.4 484 119.6C486.9 121.8 489.4 123.5 491.6 126.3C493.9 129.1 495.6 133.3 497.5 136.4C499.4 139.5 501.2 142.9 503 145C504.8 147.1 506.5 146.7 508.5 149.2C510.5 151.7 512.7 156.1 515.2 160.2C517.7 164.3 520.8 169.1 523.6 173.6C526.4 178.1 529.2 183.1 532 187C534.8 190.9 537.9 193.9 540.4 197.1C542.9 200.3 544.7 203.8 547.1 206.4C549.5 209 552.5 211.8 554.7 212.6C557 213.4 558.5 212 560.6 211.4C562.7 210.8 565.1 208.8 567.3 208.9C569.5 209 571.6 211.2 574 211.9C576.4 212.7 579.4 212.1 581.6 213.4C583.9 214.7 585.7 217.2 587.5 219.8C589.3 222.4 590.4 225 592.5 229C594.6 233 597.6 237.9 600.3 243.7C603 249.5 606.5 259 608.7 263.9C611 268.8 612.1 271 613.8 273.1C615.5 275.2 617 274.9 618.8 276.5C620.6 278.1 622.7 282.5 624.7 282.4C626.7 282.2 627.9 278.4 630.6 275.6C633.3 272.8 637.6 267.3 640.7 265.5C643.8 263.7 646.9 265.2 649.1 264.7C651.3 264.1 652.4 262.3 654.1 262.2C655.8 262.1 657.2 263.9 659.2 264.2C661.2 264.5 663.4 263 665.9 263.9C668.4 264.8 671.8 268.3 674.3 269.7C676.8 271.1 678.8 272.6 681 272.3C683.2 272 685.5 269.3 687.7 268C690 266.7 692 265.2 694.5 264.7C697 264.2 700.6 265.6 702.9 265.2C705.2 264.8 706.1 263.8 708.4 262.4C710.7 260.9 714 258.9 716.8 256.5C719.6 254.1 722.4 250.2 725.2 248.1C728 246 731.1 245.7 733.6 243.9C736.1 242.1 738.3 239.7 740.3 237.2C742.3 234.7 743.7 230.8 745.4 228.8C747.1 226.8 748.4 226.2 750.4 225.4C752.4 224.6 754.9 224.3 757.1 224.2C759.4 224.1 761.6 224.6 763.9 224.9C766.1 225.2 768.4 225.9 770.6 225.8C772.8 225.7 775.3 224.3 777.3 224.2C779.3 224.1 780.8 224.6 782.4 225.4C784 226.2 783.5 228.3 786.6 228.8C789.7 229.3 795.6 228.5 800.8 228.4C806 228.3 813.7 228.7 817.6 228.4C821.5 228.1 822.3 227.5 824.4 226.8C826.5 226.1 828.9 224.6 830.3 224.2C831.7 223.8 832.4 224.1 832.8 224.1" stroke="#2a8aff" stroke-width="1" fill="none" stroke-linejoin="round" shape-rendering="crispEdges"/>
<path d="M183.5 54.5H190.5M186.5 51.5V56" stroke="#000" stroke-width="1" fill="none"/>
<path d="M453.5 91.5H460.5M456.5 88.5V94.5" stroke="#000" stroke-width="1" fill="none"/>
<path d="M289.5 325H296.5M292.5 323V327" stroke="#000" stroke-width="1" fill="none"/>
<path d="M597.5 321.5H604.5M600.5 319.5V323.5" stroke="#000" stroke-width="1" fill="none"/>
<text x="192" y="50.1" font-size="12" font-weight="bold" fill="#e8405a" text-anchor="start" font-family="'Liberation Sans',sans-serif">161.947</text>
<text x="461.8" y="88.3" font-size="12" font-weight="bold" fill="#e8405a" text-anchor="start" font-family="'Liberation Sans',sans-serif">158.871</text>
<text x="297.7" y="336.8" font-size="12" font-weight="bold" fill="#56b894" text-anchor="start" font-family="'Liberation Sans',sans-serif">139.573</text>
<text x="605.8" y="332.8" font-size="12" font-weight="bold" fill="#56b894" text-anchor="start" font-family="'Liberation Sans',sans-serif">139.887</text>
<text x="899.9" y="195.3" font-size="12" fill="#3a0a10" text-anchor="end" font-family="'Liberation Sans',sans-serif" stroke="#3a0a10" stroke-width="0.35">150.000</text>
<text x="899.9" y="207.2" font-size="12" fill="#3a0a10" text-anchor="end" font-family="'Liberation Sans',sans-serif" stroke="#3a0a10" stroke-width="0.35">149.000</text>
<text x="899.9" y="226.3" font-size="12" fill="#3a0a10" text-anchor="end" font-family="'Liberation Sans',sans-serif" stroke="#3a0a10" stroke-width="0.35">147.500</text>
<text x="899.9" y="256.3" font-size="12" fill="#3a0a10" text-anchor="end" font-family="'Liberation Sans',sans-serif" stroke="#3a0a10" stroke-width="0.35">145.000</text>
<path d="M92.7 392.7L94.8 386.2L96.6 406.9L100.5 419.7L105.6 408.1L113.4 401.7L116.4 412.5L123.7 404.3L131.4 399.6L136 396.5L139.1 405.6L140.4 403L144.8 421.8L149.4 408.1L153.3 406.3L155.9 409.4L162.3 403L170.1 391.4L173.9 392.7L177.8 386.2L186.3 382.4L190.7 395.3L193.2 394L196.3 389.3L198.4 419.7L201 424.9L204.1 421L207.4 433.9L210.8 422.3L213.9 431.3L217 439.1L221.6 437.8L226.2 448.1L231.9 457.1L234 457.6L237.1 439.1L239.6 440.4L244.3 435.7L248.1 423.6L252.5 433.9L255.1 436.5L258.2 430.6L261.5 435.7L265.4 435.2L272.4 419.7L275.7 428.8L279.6 435.2L282.9 431.3L288.6 436.5L292.5 439.1L295 427.5L299.4 418.5L303.6 419.7L307.2 411.5L310.5 423.6L314.4 414.1L318.2 400.4L322.1 396.5L324.7 399.6L328.1 395.8L331.4 399L335.3 395.6L338.4 399.3L341 395.6L344.3 394L346.9 388.8L348.7 394L352.1 390.1L355.9 390.1L358.5 397.8L361.1 394L364.2 406.3L366.8 395.3L370.1 404.3L374 399.1L378.4 392.7L381.2 403L385.6 399.6L388.1 405.6L390.7 404.3L394.1 412L397.2 422.3L401 428L403.6 429.3L407 422.3L410.1 424.4L413.9 413.3L417.8 408.1L421.6 402.2L424.2 405.6L428.6 390.9L430.7 395.3L436.3 391.4L441 399.1L444.1 396.5L447.4 397.8L451.8 392.7L456.4 397.8L459 402.2L460.8 399.6L464.2 421.8L466.2 413.3L469.3 415.9L472.4 411.5L475.8 414.6L478.9 423.6L480.9 418.5L484.3 423.1L486.9 417.7L489.9 422.3L493.8 435.7L497.2 433.9L500.3 424.9L502.3 414.6L505.4 423.6L508 427.5L510.1 424.9L514.4 433.9L517.8 432.6L520.4 435.7L522.9 433.9L526.8 423.6L529.1 428L531.2 427L534.3 433.1L538.4 437.3L542.8 428.8L545.4 428.8L549.2 419.7L552.3 422.3L555.7 419.7L559 409.4L560.8 412.5L564.2 406.9L567.6 414.6L572.2 419.7L574.5 435.2L577.4 423.6L579.2 430.1L582.3 421.5L585.1 433.9L588.7 435.7L592.1 439.1L594.6 435.2L598.5 440.4L602.4 424.9L603.7 427L606.2 421.5L608.8 428L611.9 424.4L615.3 412.5L617.8 415.9L620.4 423.6L624.3 409.4L626.3 410.7L628.7 401.2L633.3 410.7L638.5 415.9L642.3 419.7L647 424.4L652.1 413.3L655.2 417.2L658.3 423.6L660.9 416.6L662.9 420.5L666.8 411.5L668.9 413.3L671.2 412L674.5 418.5L679.7 410.7L683 408.9L687.4 404.3L690.8 413.3L692.6 412L695.2 415.9L697 414.6L700.8 422.8L704.2 412L706 414.6L709.3 403L712.4 404.3L714.5 405.6L717.1 398.6L720.4 392.2L722.2 400.4L725.6 395.3L728.7 408.1L732 414.1L735.1 408.1L738.2 402.2L741.5 399.1L744.6 390.1L746.2 410.7L748 415.1L751.1 413.3L753.9 415.9L758.3 409.4L762.2 414.6L764.7 412L766.8 415.1L769.9 411.5L772 415.9L774.3 406.9L776.3 417.2L778.4 412.5L781.5 415.9L784.6 418.5L787.9 416.6L791.3 407.6L792.8 409.4L794.4 406.3L797 415.1L803.4 415.9L804.7 417.2L806.8 412.5L810.6 423.2L814.1 408.9L817.4 409.9L818.9 412.5L821 411L822.8 399.1L824.5 396.3L826.7 400.2L829.3 411L831.4 420.8L832.7 422.5" stroke="#29abe2" stroke-width="1" fill="none" stroke-linejoin="round" shape-rendering="crispEdges"/>
<path d="M92.5 510.4V501.4M94.5 510.4V502.1M96.5 510.4V504.5M128.5 510.4V509.4M130.5 510.4V508.7M132.5 510.4V508.6M134.5 510.4V508.4M136.5 510.4V508.5M138.5 510.4V508.8M140.5 510.4V509.1M162.5 510.4V509.6M164.5 510.4V508.6M166.5 510.4V507.7M168.5 510.4V506.4M170.5 510.4V505M172.5 510.4V503.7M174.5 510.4V502.5M176.5 510.4V501.8M178.5 510.4V501.3M180.5 510.4V501M182.5 510.4V501M184.5 510.4V501.3M186.5 510.4V502.4M188.5 510.4V504.4M190.5 510.4V507M192.5 510.4V509.5M248.5 510.4V504.3M250.5 510.4V502.1M252.5 510.4V503.7M254.5 510.4V504.8M256.5 510.4V504.5M258.5 510.4V504.2M260.5 510.4V507.6M262.5 510.4V506.9M264.5 510.4V505.5M266.5 510.4V504M268.5 510.4V502.5M270.5 510.4V499.9M272.5 510.4V497.8M274.5 510.4V498M276.5 510.4V500.7M278.5 510.4V503.7M280.5 510.4V505.8M282.5 510.4V507.2M284.5 510.4V508M286.5 510.4V508.7M288.5 510.4V509.5M294.5 510.4V507.5M296.5 510.4V505.5M298.5 510.4V502.6M300.5 510.4V500.2M302.5 510.4V498.2M304.5 510.4V496.2M306.5 510.4V494.5M308.5 510.4V495.1M310.5 510.4V497.7M312.5 510.4V498.7M314.5 510.4V497M316.5 510.4V493.8M318.5 510.4V489.8M320.5 510.4V485.9M322.5 510.4V485.1M324.5 510.4V485.2M326.5 510.4V486.1M328.5 510.4V487.5M330.5 510.4V488.9M332.5 510.4V491.3M334.5 510.4V494.2M336.5 510.4V497M338.5 510.4V499.4M340.5 510.4V500.6M342.5 510.4V500.4M344.5 510.4V499.7M346.5 510.4V499.1M348.5 510.4V500.7M350.5 510.4V500.4M352.5 510.4V500.7M354.5 510.4V501.7M356.5 510.4V502.7M358.5 510.4V505.7M360.5 510.4V509.7M376.5 510.4V508.7M378.5 510.4V506.2M380.5 510.4V508.8M418.5 510.4V507.8M420.5 510.4V503.5M422.5 510.4V501.7M424.5 510.4V501.1M426.5 510.4V498.1M428.5 510.4V495.1M430.5 510.4V493.1M432.5 510.4V492.3M434.5 510.4V491.9M436.5 510.4V492.2M438.5 510.4V494.4M440.5 510.4V497.4M442.5 510.4V500.3M444.5 510.4V502.3M446.5 510.4V503.8M448.5 510.4V505.1M450.5 510.4V506.2M452.5 510.4V507M454.5 510.4V508.2M546.5 510.4V507.8M548.5 510.4V504.8M550.5 510.4V503.3M552.5 510.4V502.4M554.5 510.4V501.7M556.5 510.4V500.3M558.5 510.4V498.4M560.5 510.4V497.2M562.5 510.4V496.5M564.5 510.4V495.7M566.5 510.4V497.7M568.5 510.4V500.2M570.5 510.4V503M572.5 510.4V506.3M606.5 510.4V508.5M608.5 510.4V507.9M610.5 510.4V506.2M612.5 510.4V502.6M614.5 510.4V498.2M616.5 510.4V495.8M618.5 510.4V497.6M620.5 510.4V499.2M622.5 510.4V499.4M624.5 510.4V497.3M626.5 510.4V494.3M628.5 510.4V489.7M630.5 510.4V487.5M632.5 510.4V489M634.5 510.4V493.4M636.5 510.4V498.3M638.5 510.4V502.7M640.5 510.4V506.3M642.5 510.4V509.4M666.5 510.4V508.3M668.5 510.4V506.7M670.5 510.4V506.2M672.5 510.4V507.3M674.5 510.4V508.4M676.5 510.4V507.8M678.5 510.4V506.8M680.5 510.4V505.8M682.5 510.4V504.6M684.5 510.4V503.3M686.5 510.4V502.7M688.5 510.4V502.1M690.5 510.4V503.5M692.5 510.4V505.9M694.5 510.4V507.9M708.5 510.4V507.4M710.5 510.4V505.4M712.5 510.4V503.4M714.5 510.4V502.1M716.5 510.4V500.9M718.5 510.4V499.3M720.5 510.4V498.4M722.5 510.4V498.9M724.5 510.4V499.6M726.5 510.4V501.3M728.5 510.4V504.4M730.5 510.4V508.1M740.5 510.4V509.2M742.5 510.4V507.2M744.5 510.4V504.1M746.5 510.4V506.8M792.5 510.4V509M794.5 510.4V508M796.5 510.4V509.6M816.5 510.4V509.3M818.5 510.4V508.8M820.5 510.4V507.6M822.5 510.4V505.9M824.5 510.4V503.9M826.5 510.4V503.5M828.5 510.4V504.5M830.5 510.4V507.7" stroke="#e8465c" stroke-width="1.05" fill="none"/>
<path d="M98.5 510.4V514.9M100.5 510.4V519.5M102.5 510.4V521.3M104.5 510.4V520.4M106.5 510.4V518.6M108.5 510.4V516.7M110.5 510.4V515.7M112.5 510.4V514.9M114.5 510.4V513.9M116.5 510.4V513.3M118.5 510.4V513M120.5 510.4V512.5M122.5 510.4V512.2M124.5 510.4V511.7M126.5 510.4V511M142.5 510.4V513.9M144.5 510.4V517M146.5 510.4V518M148.5 510.4V517.5M150.5 510.4V516.2M152.5 510.4V514.8M154.5 510.4V513.7M156.5 510.4V512.6M158.5 510.4V511.7M160.5 510.4V511.2M194.5 510.4V511.1M196.5 510.4V513.4M198.5 510.4V515.7M200.5 510.4V519.4M202.5 510.4V523.6M204.5 510.4V527.3M206.5 510.4V529.7M208.5 510.4V529.1M210.5 510.4V528.3M212.5 510.4V527.6M214.5 510.4V527.9M216.5 510.4V530.5M218.5 510.4V532.3M220.5 510.4V532.3M222.5 510.4V532.9M224.5 510.4V534.2M226.5 510.4V536.4M228.5 510.4V539.7M230.5 510.4V543.2M232.5 510.4V546.2M234.5 510.4V545.8M236.5 510.4V542.8M238.5 510.4V537.4M240.5 510.4V532M242.5 510.4V527.8M244.5 510.4V516.9M246.5 510.4V514.2M290.5 510.4V511.2M292.5 510.4V511.2M362.5 510.4V512.7M364.5 510.4V513.7M366.5 510.4V513.1M368.5 510.4V513.5M370.5 510.4V513.1M372.5 510.4V512M374.5 510.4V511.2M382.5 510.4V511.1M384.5 510.4V512.4M386.5 510.4V513.3M388.5 510.4V514M390.5 510.4V515.4M392.5 510.4V517.3M394.5 510.4V520.4M396.5 510.4V524.4M398.5 510.4V528.4M400.5 510.4V532.4M402.5 510.4V534.3M404.5 510.4V534.1M406.5 510.4V532.1M408.5 510.4V530.1M410.5 510.4V526.4M412.5 510.4V522.4M414.5 510.4V518.6M416.5 510.4V515.6M456.5 510.4V511.2M458.5 510.4V512.6M460.5 510.4V514M462.5 510.4V517.4M464.5 510.4V520.5M466.5 510.4V522.2M468.5 510.4V522.8M470.5 510.4V524M472.5 510.4V523M474.5 510.4V522.3M476.5 510.4V521.9M478.5 510.4V521.4M480.5 510.4V520.9M482.5 510.4V521.5M484.5 510.4V520.9M486.5 510.4V520.3M488.5 510.4V520.2M490.5 510.4V520.9M492.5 510.4V522.9M494.5 510.4V525.4M496.5 510.4V526.3M498.5 510.4V525.4M500.5 510.4V523.4M502.5 510.4V520.5M504.5 510.4V518.1M506.5 510.4V516.5M508.5 510.4V515.5M510.5 510.4V514.9M512.5 510.4V516.1M514.5 510.4V517.9M516.5 510.4V519.5M518.5 510.4V519.9M520.5 510.4V519.2M522.5 510.4V517.9M524.5 510.4V516.2M526.5 510.4V514.2M528.5 510.4V512.6M530.5 510.4V511.6M532.5 510.4V511.4M534.5 510.4V512M536.5 510.4V513.6M538.5 510.4V514.5M540.5 510.4V513.9M542.5 510.4V512.7M544.5 510.4V511.6M574.5 510.4V514.9M576.5 510.4V517M578.5 510.4V518M580.5 510.4V519.3M582.5 510.4V520.7M584.5 510.4V522.1M586.5 510.4V523.9M588.5 510.4V525.7M590.5 510.4V527.2M592.5 510.4V527.2M594.5 510.4V526.4M596.5 510.4V525.9M598.5 510.4V525.4M600.5 510.4V523.4M602.5 510.4V517.7M604.5 510.4V512.6M644.5 510.4V513M646.5 510.4V514.8M648.5 510.4V515.9M650.5 510.4V516M652.5 510.4V514.4M654.5 510.4V514.6M656.5 510.4V515.5M658.5 510.4V516.1M660.5 510.4V515.5M662.5 510.4V514.1M664.5 510.4V511.2M696.5 510.4V511M698.5 510.4V513.5M700.5 510.4V514.8M702.5 510.4V515.4M704.5 510.4V514.5M706.5 510.4V511.5M732.5 510.4V511.1M734.5 510.4V512M736.5 510.4V512M738.5 510.4V511.2M748.5 510.4V512.7M750.5 510.4V514.9M752.5 510.4V515.9M754.5 510.4V516.4M756.5 510.4V516.8M758.5 510.4V516.5M760.5 510.4V515.9M762.5 510.4V515.3M764.5 510.4V514.8M766.5 510.4V514.8M768.5 510.4V514.5M770.5 510.4V514.1M772.5 510.4V513.8M774.5 510.4V513.8M776.5 510.4V513.8M778.5 510.4V513.8M780.5 510.4V513.8M782.5 510.4V513.8M784.5 510.4V514.2M786.5 510.4V514.6M788.5 510.4V513.8M790.5 510.4V511.6M798.5 510.4V511.4M800.5 510.4V511.6M802.5 510.4V511.2M804.5 510.4V511.6M806.5 510.4V512M808.5 510.4V512.7M810.5 510.4V513.8M812.5 510.4V513.5M814.5 510.4V511M832.5 510.4V511.7" stroke="#3fac7a" stroke-width="1.05" fill="none"/>
<path d="M92.3 490.6C94.1 491.2 99.6 492.9 103.1 494.2C106.6 495.5 109.1 497.5 113.4 498.3C117.7 499.1 124.4 498.8 128.9 498.8C133.4 498.8 137.1 497.9 140.5 498.3C143.9 498.7 146.3 500.5 149.5 501.4C152.7 502.3 156.4 503.6 159.8 503.5C163.2 503.4 166.7 502.3 170.1 500.9C173.5 499.5 177.2 496.3 180.4 494.9C183.6 493.5 186.4 492.8 189.4 492.4C192.4 492 195.7 491.1 198.5 492.4C201.3 493.7 203.2 497.1 206.2 500.1C209.2 503.1 213.1 506.1 216.5 510.4C219.9 514.7 223.8 520.9 226.8 525.9C229.8 530.9 231.9 536 234.5 540.1C237.1 544.2 240.1 548.4 242.3 550.4C244.5 552.4 245.5 552.2 247.7 551.9C249.9 551.5 252.5 549.2 255.5 548.3C258.5 547.4 262.4 547.7 265.8 546.5C269.2 545.3 272.7 542.6 276.1 541.3C279.5 540 283 539.3 286.4 538.8C289.8 538.2 293.7 539.1 296.7 538C299.7 536.9 301.8 534.3 304.4 532.3C307 530.3 309.6 529.1 312.2 525.9C314.8 522.7 317.3 516.9 319.9 513C322.5 509.1 325 505.5 327.6 502.7C330.2 499.9 332.8 498.1 335.4 496.2C338 494.3 340.5 492.8 343.1 491.1C345.7 489.4 348.4 487.1 350.8 485.9C353.2 484.7 354.7 484.1 357.3 483.9C359.9 483.7 363.5 484.3 366.3 484.6C369.1 484.9 371 485.6 374 485.9C377 486.2 381.3 486 384.3 486.4C387.3 486.8 389.5 486.9 392.1 488.5C394.7 490.1 397.2 493.4 399.8 496.2C402.4 499 404.9 502.9 407.5 505.3C410.1 507.7 413.2 509.3 415.3 510.4C417.4 511.5 418.3 512.4 420.4 511.7C422.5 511.1 425.5 508.4 428.1 506.5C430.7 504.6 433.3 502.2 435.9 500.1C438.5 498 441 495.3 443.6 493.7C446.2 492.1 448.7 490.9 451.3 490.3C453.9 489.7 456.5 489.2 459.1 489.8C461.7 490.4 464.2 492 466.8 493.7C469.4 495.4 472.3 498.4 474.5 500.1C476.7 501.8 477.8 502.5 480 504C482.2 505.5 485.1 507 487.7 509.1C490.3 511.2 492.9 515 495.5 516.9C498.1 518.8 500.6 519.9 503.2 520.7C505.8 521.6 508.3 521.1 510.9 522C513.5 522.9 516.1 524.6 518.7 525.9C521.3 527.2 523.8 529.1 526.4 529.7C529 530.3 531.5 529.4 534.1 529.7C536.7 530 539.3 531.5 541.9 531.5C544.5 531.5 547 530.8 549.6 529.7C552.2 528.6 554.7 526.8 557.3 525.1C559.9 523.4 562.5 521 565.1 519.4C567.7 517.8 570.2 515.7 572.8 515.6C575.4 515.5 577.9 517.2 580.5 518.9C583.1 520.6 585.6 523.7 588.2 525.9C590.8 528.1 593.4 530.6 596 532.3C598.6 534 601.1 535.7 603.7 536.2C606.3 536.7 608.8 536.5 611.4 535.4C614 534.3 616.6 531.9 619.2 529.7C621.8 527.5 624.3 524.6 626.9 522C629.5 519.4 632 515.7 634.6 513.8C637.2 511.9 639.8 510.5 642.4 510.4C645 510.3 647.1 512.1 650.1 513C653.1 513.9 657 515.6 660.4 515.6C663.8 515.6 667.3 513.9 670.7 513C674.1 512.1 677.6 511.3 681 510.4C684.4 509.5 687.9 507.9 691.3 507.8C694.7 507.7 698.1 509.8 701.6 509.6C705.1 509.4 708.5 507.9 712 506.5C715.5 505.1 719.2 502.1 722.3 500.9C725.3 499.7 727.2 499.7 730.3 499.3C733.3 498.9 738 498.6 740.6 498.3C743.2 498 743.6 497.2 745.8 497.5C747.9 497.8 750.5 499.2 753.5 500.1C756.5 501 760.4 501.8 763.8 502.7C767.2 503.6 770.7 504.4 774.1 505.3C777.5 506.2 781 507.2 784.4 507.8C787.8 508.4 791.2 508.8 794.7 509.1C798.2 509.4 801.7 509.4 805.1 509.6C808.5 509.8 812.4 510.6 815.4 510.4C818.4 510.2 820.8 509.2 823.1 508.6C825.5 508 827.9 506.8 829.5 506.5C831.1 506.2 832.1 507 832.6 507.1" stroke="#3cb878" stroke-width="1" fill="none" stroke-linejoin="round" shape-rendering="crispEdges"/>
<path d="M92.3 489.8C92.5 489.4 93.6 485.9 94.3 486.4C95 486.9 96.9 492.2 97.9 493.7C98.9 495.2 101.3 498.6 103.1 499.3C104.9 500 111 499.2 113.4 499.3C115.8 499.4 121 500.4 123.7 500.1C126.4 499.8 134.2 496.7 136.6 497C139 497.3 142.9 501.7 144.3 502.7C145.7 503.7 147 505.1 148.2 505.3C149.4 505.5 152.7 504.4 154.6 504C156.5 503.6 162.5 503.1 164.9 501.9C167.3 500.7 172.9 495.2 175.3 493.7C177.7 492.2 183.7 489.5 185.6 489C187.5 488.5 190.5 489.3 192 489.8C193.5 490.3 197.1 492.2 198.5 493.7C199.9 495.2 202.1 500.4 203.6 502.7C205.1 505 209.5 510.3 211.3 513C213.1 515.7 217.4 523.3 219.1 525.9C220.8 528.5 224.1 532 225.5 534.9C226.9 537.8 229.6 547.7 230.7 550.4C231.8 553.1 233.4 557.2 234.5 558.1C235.6 559 238.8 559 240 558.5C241.2 558 244 555.4 245.2 554.2C246.4 553 249.1 548.8 250.3 547.8C251.5 546.8 254.4 545.9 255.5 545.7C256.6 545.5 258.1 546.6 259.3 546.5C260.5 546.4 264.3 546.4 265.8 545.2C267.3 544 270.7 537.3 272.2 536.2C273.7 535.1 277 535.1 278.7 535.4C280.4 535.7 284.8 538.3 286.4 538.8C288 539.3 291.4 540.4 292.8 540.1C294.2 539.8 296.8 537.6 298 536.2C299.2 534.8 301.9 530.2 303.1 528.5C304.3 526.8 307.2 522.8 308.3 522C309.4 521.2 311.1 523 312.2 522C313.2 521 316.1 515.4 317.3 513C318.5 510.6 321.3 503.5 322.5 501.4C323.7 499.3 326.1 496.3 327.6 494.9C329.1 493.5 333.6 490.7 335.4 489.8C337.2 488.9 341.3 488.1 343.1 487.2C344.9 486.3 349.1 482.8 350.8 482.1C352.5 481.4 355.9 481 357.3 481.3C358.7 481.6 361.3 483.9 362.4 484.6C363.4 485.3 364.9 486.9 366.3 487.2C367.7 487.5 372.5 487.5 374 487.2C375.5 486.9 378 484.6 379.2 484.6C380.4 484.6 383.1 486.6 384.3 487.2C385.5 487.8 388.3 488.6 389.5 489.8C390.7 491 393.4 495.4 394.6 497.5C395.8 499.6 398.6 505.7 399.8 507.8C401 509.9 403.8 514.4 405 515.6C406.2 516.8 408.9 518.1 410.1 518.1C411.3 518.1 414.1 516.6 415.3 515.6C416.5 514.6 419.2 510.6 420.4 509.1C421.6 507.6 424.2 504.5 425.6 502.7C427 500.9 430.6 495.3 432 493.7C433.4 492.1 435.8 489.6 437.2 489C438.6 488.4 442 488.6 443.6 488.5C445.2 488.4 449.8 488.3 451.3 488.5C452.8 488.7 455.3 489.2 456.5 489.8C457.7 490.4 460.4 492.6 461.6 493.7C462.8 494.8 465.6 497.6 466.8 498.8C468 500 470.6 502.8 472 504C473.4 505.2 476.7 508.1 478.4 509.1C480.1 510.2 484.7 511.8 486.4 513C488.1 514.2 491.5 518 492.9 519.4C494.3 520.8 496.8 524.3 498 524.6C499.2 524.9 502 522.2 503.2 522C504.4 521.8 507.2 522.7 508.4 523.3C509.6 523.9 512.3 526.3 513.5 527.2C514.7 528.1 517.5 530.4 518.7 531C519.9 531.6 522.6 532.5 523.8 532.3C525 532.1 527.8 529.9 529 529.7C530.2 529.5 532.9 530 534.1 530.3C535.3 530.6 538.1 532.2 539.3 532.3C540.5 532.4 543.2 531.7 544.4 531C545.6 530.3 548.2 526.9 549.6 525.9C551 524.9 554.5 523.2 556 522C557.5 520.8 561.1 516.7 562.5 515.6C563.9 514.5 566.6 512.5 567.6 512.2C568.6 511.9 570.6 512.3 571.5 513C572.4 513.7 574.2 517.1 575.4 518.1C576.6 519.1 580.4 520.8 581.8 522C583.2 523.2 585.8 527 587 528.5C588.2 530 590.9 533.5 592.1 534.9C593.3 536.3 596.3 539.3 597.3 540.1C598.3 540.9 599.7 542.4 600.4 542.1C601.1 541.8 602.7 538.2 603.7 537.5C604.7 536.8 607.9 536.8 608.9 536.2C609.9 535.6 611.7 533.7 612.7 532.3C613.8 530.9 616.8 525.1 617.9 524.1C619 523.1 620.9 524 621.8 523.3C622.7 522.6 624.7 519.6 625.6 518.1C626.5 516.6 628.6 511.7 629.5 510.4C630.4 509.1 632.4 507.5 633.4 507.1C634.4 506.7 637.5 506.7 638.5 507.1C639.5 507.5 641.5 509.4 642.4 510.4C643.3 511.4 645.2 515.1 646.2 515.6C647.2 516.1 650.2 514.5 651.4 514.3C652.6 514.1 655.3 514.1 656.5 514.3C657.7 514.5 660.5 516.3 661.7 516.3C662.9 516.3 665.5 514.8 666.9 514.3C668.3 513.8 671.8 512.2 673.3 511.7C674.8 511.2 678.2 511.1 679.7 510.4C681.2 509.7 685 505.8 686.2 505.3C687.4 504.8 688.9 506.1 690.1 506.5C691.3 506.9 695 508.5 696.5 509.1C698 509.7 701.5 511.7 702.9 511.7C704.3 511.7 706.7 510 708.1 509.1C709.5 508.2 713 505.4 714.5 504C716 502.6 719.6 498.6 721 497.5C722.4 496.4 725.2 494 726.4 494.2C727.6 494.4 730.5 498 731.6 498.8C732.7 499.6 734.5 500.9 735.5 500.9C736.5 500.9 739.6 499.6 740.6 498.8C741.6 498 743.6 494.3 744.5 494.4C745.4 494.5 747.4 498.4 748.4 499.3C749.4 500.2 752 501.4 753.5 501.9C755 502.4 759.4 503.6 761.2 504C763 504.4 767.2 504.9 769 505.3C770.8 505.7 774.9 507.4 776.7 507.8C778.5 508.2 782.9 508.4 784.4 508.6C785.9 508.8 788.4 509.7 789.6 509.6C790.8 509.5 793.5 507.8 794.7 507.8C795.9 507.8 798.4 509.3 799.9 509.6C801.4 509.9 806.1 510.2 807.6 510.4C809.1 510.6 811.6 511.3 812.8 511.2C814 511.1 816.7 510.1 817.9 509.6C819.1 509.1 822 507.2 823.1 506.5C824.2 505.8 826.3 503.7 827 503.5C827.7 503.3 828.8 504 829.5 504.5C830.2 505 832.2 507.4 832.6 507.8" stroke="#2a8aff" stroke-width="1" fill="none" stroke-linejoin="round" shape-rendering="crispEdges"/>
<text x="86.6" y="24.8" font-size="12" fill="#1e2440" text-anchor="end" font-family="'Liberation Sans',sans-serif" >164.632</text>
<text x="903.4" y="24.8" font-size="12" fill="#1e2440" text-anchor="start" font-family="'Liberation Sans',sans-serif" >164.632</text>
<text x="86.6" y="78.9" font-size="12" fill="#1e2440" text-anchor="end" font-family="'Liberation Sans',sans-serif" >160.163</text>
<text x="903.4" y="78.9" font-size="12" fill="#1e2440" text-anchor="start" font-family="'Liberation Sans',sans-serif" >160.163</text>
<text x="86.6" y="133" font-size="12" fill="#1e2440" text-anchor="end" font-family="'Liberation Sans',sans-serif" >155.694</text>
<text x="903.4" y="133" font-size="12" fill="#1e2440" text-anchor="start" font-family="'Liberation Sans',sans-serif" >155.694</text>
<text x="86.6" y="187" font-size="12" fill="#1e2440" text-anchor="end" font-family="'Liberation Sans',sans-serif" >151.225</text>
<text x="903.4" y="187" font-size="12" fill="#1e2440" text-anchor="start" font-family="'Liberation Sans',sans-serif" >151.225</text>
<text x="86.6" y="241.1" font-size="12" fill="#1e2440" text-anchor="end" font-family="'Liberation Sans',sans-serif" >146.756</text>
<text x="903.4" y="241.1" font-size="12" fill="#1e2440" text-anchor="start" font-family="'Liberation Sans',sans-serif" >146.756</text>
<text x="86.6" y="295.1" font-size="12" fill="#1e2440" text-anchor="end" font-family="'Liberation Sans',sans-serif" >142.288</text>
<text x="903.4" y="295.1" font-size="12" fill="#1e2440" text-anchor="start" font-family="'Liberation Sans',sans-serif" >142.288</text>
<text x="86.6" y="371.1" font-size="12" fill="#1e2440" text-anchor="end" font-family="'Liberation Sans',sans-serif" >88.339</text>
<text x="903.4" y="371.1" font-size="12" fill="#1e2440" text-anchor="start" font-family="'Liberation Sans',sans-serif" >88.339</text>
<text x="86.6" y="401.3" font-size="12" fill="#1e2440" text-anchor="end" font-family="'Liberation Sans',sans-serif" >63.301</text>
<text x="903.4" y="401.3" font-size="12" fill="#1e2440" text-anchor="start" font-family="'Liberation Sans',sans-serif" >63.301</text>
<text x="86.6" y="431.2" font-size="12" fill="#1e2440" text-anchor="end" font-family="'Liberation Sans',sans-serif" >38.262</text>
<text x="903.4" y="431.2" font-size="12" fill="#1e2440" text-anchor="start" font-family="'Liberation Sans',sans-serif" >38.262</text>
<text x="86.6" y="484.3" font-size="12" fill="#1e2440" text-anchor="end" font-family="'Liberation Sans',sans-serif" >1.968</text>
<text x="903.4" y="484.3" font-size="12" fill="#1e2440" text-anchor="start" font-family="'Liberation Sans',sans-serif" >1.968</text>
<text x="86.6" y="510.1" font-size="12" fill="#1e2440" text-anchor="end" font-family="'Liberation Sans',sans-serif" >0.193</text>
<text x="903.4" y="510.1" font-size="12" fill="#1e2440" text-anchor="start" font-family="'Liberation Sans',sans-serif" >0.193</text>
<text x="86.6" y="536.1" font-size="12" fill="#1e2440" text-anchor="end" font-family="'Liberation Sans',sans-serif" >-1.581</text>
<text x="903.4" y="536.1" font-size="12" fill="#1e2440" text-anchor="start" font-family="'Liberation Sans',sans-serif" >-1.581</text>
<rect x="900.8" y="238.7" width="67.3" height="16.6" fill="#fff" stroke="#ff7f00" stroke-width="1.1"/>
<text x="903.8" y="250.9" font-size="12" fill="#ff7f00" text-anchor="start" font-family="'Liberation Sans',sans-serif" >146.737</text>
<path d="M964 229.8L968 233.8H960ZM964 234.3L968.4 238.4H959.6Z" fill="#ff7f00"/>
<text x="92" y="14.5" font-size="12" fill="#111" font-family="'Liberation Sans','Noto Sans CJK SC',sans-serif" >美元日元</text>
<text y="14.5" font-size="12" fill="#ff7a1a" font-family="'Liberation Sans','Noto Sans CJK SC',sans-serif"><tspan x="139.2">【</tspan><tspan x="153">日线</tspan><tspan x="178.2">】</tspan></text>
<circle cx="192.6" cy="11.1" r="4" fill="none" stroke="#ff8a30" stroke-width="0.9"/><path d="M188.6 11.1H196.6M192.6 7.1V15.1" stroke="#ff8a30" stroke-width="0.9"/>
<rect x="206.6" y="2.6" width="11" height="12" fill="#8a8a80"/>
<rect x="205.9" y="1.9" width="10.6" height="11.4" fill="#fff" stroke="#00008b" stroke-width="1.3"/>
<path d="M206.5 8.2L209.5 4.8L212.5 7L215.8 5" stroke="#f00" stroke-width="1.1" fill="none"/>
<path d="M206.5 11.2L209.5 7.8L212.5 10.2L215.8 8.2" stroke="#00f" stroke-width="1.1" fill="none"/>
<text x="220.6" y="14.3" font-size="12.5" fill="#111" font-family="'Liberation Sans','Noto Sans CJK SC',sans-serif" >MA(21,50,100,200,0,0)</text>
<text x="352" y="14.3" font-size="12.5" fill="#4c94f2" font-family="'Liberation Sans','Noto Sans CJK SC',sans-serif" >MA21:147.833</text>
<text x="441.5" y="14.3" font-size="12.5" fill="#4cc48c" font-family="'Liberation Sans','Noto Sans CJK SC',sans-serif" >MA50:147.779</text>
<text x="531" y="14.3" font-size="12.5" fill="#3fb2e8" font-family="'Liberation Sans','Noto Sans CJK SC',sans-serif" >MA100:146.464</text>
<text x="629" y="14.3" font-size="12.5" fill="#f8964e" font-family="'Liberation Sans','Noto Sans CJK SC',sans-serif" >MA200:148.325</text>
<text x="726" y="14.3" font-size="12.5" fill="#ee82ee" font-family="'Liberation Sans','Noto Sans CJK SC',sans-serif" >MA0:1</text>
<rect x="837.5" y="1.4" width="12.7" height="12.7" fill="#fff" stroke="#1e78d2" stroke-width="1.25"/>
<rect x="853.5" y="1.4" width="12.7" height="12.7" fill="#fff" stroke="#1e78d2" stroke-width="1.25"/>
<rect x="869.5" y="1.4" width="12.7" height="12.7" fill="#1e78d2" stroke="#1e78d2" stroke-width="1.25"/>
<rect x="885.5" y="1.4" width="12.7" height="12.7" fill="#fff" stroke="#1e78d2" stroke-width="1.25"/>
<path d="M839 7.7H842.4M846.1 7.7H849.4" stroke="#1e78d2" stroke-width="1.8" fill="none"/><path d="M844.2 3.1V5.3M844.2 10.2V12.5" stroke="#1e78d2" stroke-width="1.9" fill="none"/>
<rect x="843.2" y="6.7" width="2.1" height="2" fill="#1e78d2"/>
<path d="M855.9 3.4V12.4M855.2 11.5H864M859.7 4.6V9.5M862.9 4.6V9.5" stroke="#1e78d2" stroke-width="1.3" fill="none"/><path d="M860.4 7.05L862.6 4.7V9.4Z" fill="#1e78d2"/>
<path d="M855.9 2.3L857.5 4.6H854.3ZM865.4 11.5L863.2 13V10Z" fill="#1e78d2"/>
<path d="M872.1 3.4V12.4M871.3 11.5H880.2" stroke="#fff" stroke-width="1.3" fill="none"/><path d="M872.1 2.3L873.7 4.6H870.5ZM881.6 11.5L879.4 13V10Z" fill="#fff"/><path d="M875.6 4.4L880.4 7L875.6 9.6Z" fill="#fff" opacity="0.85"/><rect x="873.9" y="4.4" width="1.9" height="5.2" fill="#fff"/>
<path d="M890.2 3.7H887.6V11.8H890.2M889.9 3.7V5.6M889.9 9.9V11.8" stroke="#1e78d2" stroke-width="1.3" fill="none"/><path d="M889.5 7.7H894.6" stroke="#1e78d2" stroke-width="2.1"/><path d="M896.8 7.7L894 4.9V10.5Z" fill="#1e78d2"/>
<text x="92.2" y="360" font-size="12" fill="#111" font-family="'Liberation Sans','Noto Sans CJK SC',sans-serif" >RSI(14,14,14)</text>
<text x="171.9" y="360" font-size="12" fill="#4c94f2" font-family="'Liberation Sans','Noto Sans CJK SC',sans-serif" >RSI1:42.925</text>
<text x="246.6" y="360" font-size="12" fill="#4cc48c" font-family="'Liberation Sans','Noto Sans CJK SC',sans-serif" >RSI2:42.925</text>
<text x="321.6" y="360" font-size="12" fill="#3fb2e8" font-family="'Liberation Sans','Noto Sans CJK SC',sans-serif" >RSI3:42.925</text>
<text x="92.8" y="472.6" font-size="12" fill="#111" font-family="'Liberation Sans','Noto Sans CJK SC',sans-serif" >MACD(26,12,9)</text>
<text x="182.5" y="472.6" font-size="12" fill="#4c94f2" font-family="'Liberation Sans','Noto Sans CJK SC',sans-serif" >DIFF:0.166</text>
<text x="249.8" y="472.6" font-size="12" fill="#4cc48c" font-family="'Liberation Sans','Noto Sans CJK SC',sans-serif" >DEA:0.206</text>
<text x="316" y="472.6" font-size="12" fill="#3fb2e8" font-family="'Liberation Sans','Noto Sans CJK SC',sans-serif" >MACD:-0.079</text>
<path d="M34.3 465.8L36.2 465.8M32.7 469.5L34.1 470.9M29 471.1L29 473M25.3 469.5L23.9 470.9M23.7 465.8L21.8 465.8M25.3 462.1L23.9 460.7M29 460.5L29 458.6M32.7 462.1L34.1 460.7" stroke="#f00" stroke-width="1.2" fill="none"/>
<circle cx="29" cy="465.8" r="3.6" fill="#fff" stroke="#000" stroke-width="1"/><circle cx="29" cy="465.8" r="1.9" fill="#f00"/>
<rect x="96.6" y="559.5" width="1" height="5" fill="#c9d2dc"/>
<text x="98.8" y="571.9" font-size="12" font-weight="bold" fill="#1a1f38" text-anchor="start" font-family="'Liberation Sans',sans-serif">2024/05</text>
<rect x="182.5" y="559.5" width="1" height="5" fill="#c9d2dc"/>
<text x="184.7" y="571.9" font-size="12" font-weight="bold" fill="#1a1f38" text-anchor="start" font-family="'Liberation Sans',sans-serif">2024/07</text>
<rect x="272.2" y="559.5" width="1" height="5" fill="#c9d2dc"/>
<text x="274.4" y="571.9" font-size="12" font-weight="bold" fill="#1a1f38" text-anchor="start" font-family="'Liberation Sans',sans-serif">2024/09</text>
<rect x="360.6" y="559.5" width="1" height="5" fill="#c9d2dc"/>
<text x="362.8" y="571.9" font-size="12" font-weight="bold" fill="#1a1f38" text-anchor="start" font-family="'Liberation Sans',sans-serif">2024/11</text>
<rect x="444.4" y="559.5" width="1" height="5" fill="#c9d2dc"/>
<text x="446.6" y="571.9" font-size="12" font-weight="bold" fill="#1a1f38" text-anchor="start" font-family="'Liberation Sans',sans-serif">2025/01</text>
<rect x="528.5" y="559.5" width="1" height="5" fill="#c9d2dc"/>
<text x="530.7" y="571.9" font-size="12" font-weight="bold" fill="#1a1f38" text-anchor="start" font-family="'Liberation Sans',sans-serif">2025/03</text>
<rect x="614" y="559.5" width="1" height="5" fill="#c9d2dc"/>
<text x="616.2" y="571.9" font-size="12" font-weight="bold" fill="#1a1f38" text-anchor="start" font-family="'Liberation Sans',sans-serif">2025/05</text>
<rect x="699.8" y="559.5" width="1" height="5" fill="#c9d2dc"/>
<text x="702" y="571.9" font-size="12" font-weight="bold" fill="#1a1f38" text-anchor="start" font-family="'Liberation Sans',sans-serif">2025/07</text>
<rect x="788.3" y="559.5" width="1" height="5" fill="#c9d2dc"/>
<text x="790.5" y="571.9" font-size="12" font-weight="bold" fill="#1a1f38" text-anchor="start" font-family="'Liberation Sans',sans-serif">2025/09</text>
<rect x="20" y="559.5" width="69.8" height="19" fill="#fff" stroke="#d0d8e2" stroke-width="1.2"/>
<text x="35" y="575.6" font-size="12" font-weight="bold" fill="#ff6a00" font-family="'Liberation Sans','Noto Sans CJK SC',sans-serif">日线</text>
<path d="M68.8 566.4L73.2 574.2H64.4Z" fill="#ff6a00"/>
<rect x="20" y="578.6" width="39.5" height="16.4" fill="#ff6600"/>
<rect x="59.5" y="579" width="1" height="16" fill="#d0d8e2"/>
<text font-size="12" fill="#fff"><tspan x="27.7" y="591.4" font-family="'Noto Serif CJK SC',serif" font-weight="600">指标</tspan></text>
<rect x="99.5" y="579" width="1" height="16" fill="#d0d8e2"/>
<text font-size="12" fill="#1c1c24"><tspan x="67.7" y="591.4" font-family="'Noto Serif CJK SC',serif" font-weight="500">模板</tspan></text>
<rect x="157.5" y="579" width="1" height="16" fill="#d0d8e2"/>
<text font-size="12" fill="#ff7a1a"><tspan x="108" y="591.2" font-family="'Liberation Serif',serif" textLength="17.4" lengthAdjust="spacingAndGlyphs">VIP</tspan><tspan x="125.7" y="591.4" font-family="'Noto Serif CJK SC',serif" font-weight="500">指标</tspan></text>
<rect x="203.5" y="579" width="1" height="16" fill="#d0d8e2"/>
<text font-size="12" fill="#1c1c24"><tspan x="166" y="591.2" font-family="'Liberation Serif',serif" textLength="29.4" lengthAdjust="spacingAndGlyphs">EXPMA</tspan></text>
<rect x="204" y="578.6" width="27.5" height="16.4" fill="#ff6600"/>
<rect x="231.5" y="579" width="1" height="16" fill="#d0d8e2"/>
<text font-size="12" fill="#fff"><tspan x="212" y="591.2" font-family="'Liberation Serif',serif" textLength="11.4" lengthAdjust="spacingAndGlyphs">MA</tspan></text>
<rect x="271.5" y="579" width="1" height="16" fill="#d0d8e2"/>
<text font-size="12" fill="#1c1c24"><tspan x="240" y="591.2" font-family="'Liberation Serif',serif" textLength="23.4" lengthAdjust="spacingAndGlyphs">MACD</tspan></text>
<rect x="299.5" y="579" width="1" height="16" fill="#d0d8e2"/>
<text font-size="12" fill="#1c1c24"><tspan x="280" y="591.2" font-family="'Liberation Serif',serif" textLength="11.4" lengthAdjust="spacingAndGlyphs">PP</tspan></text>
<rect x="333.5" y="579" width="1" height="16" fill="#d0d8e2"/>
<text font-size="12" fill="#1c1c24"><tspan x="308" y="591.2" font-family="'Liberation Serif',serif" textLength="17.4" lengthAdjust="spacingAndGlyphs">PPS</tspan></text>
<rect x="367.5" y="579" width="1" height="16" fill="#d0d8e2"/>
<text font-size="12" fill="#1c1c24"><tspan x="342" y="591.2" font-family="'Liberation Serif',serif" textLength="17.4" lengthAdjust="spacingAndGlyphs">CCI</tspan></text>
<rect x="401.5" y="579" width="1" height="16" fill="#d0d8e2"/>
<text font-size="12" fill="#1c1c24"><tspan x="376" y="591.2" font-family="'Liberation Serif',serif" textLength="17.4" lengthAdjust="spacingAndGlyphs">KDJ</tspan></text>
<rect x="435.5" y="579" width="1" height="16" fill="#d0d8e2"/>
<text font-size="12" fill="#1c1c24"><tspan x="410" y="591.2" font-family="'Liberation Serif',serif" textLength="17.4" lengthAdjust="spacingAndGlyphs">RSI</tspan></text>
<rect x="463.5" y="579" width="1" height="16" fill="#d0d8e2"/>
<text font-size="12" fill="#1c1c24"><tspan x="444" y="591.2" font-family="'Liberation Serif',serif" textLength="11.4" lengthAdjust="spacingAndGlyphs">CR</tspan></text>
<rect x="497.5" y="579" width="1" height="16" fill="#d0d8e2"/>
<text font-size="12" fill="#1c1c24"><tspan x="472" y="591.2" font-family="'Liberation Serif',serif" textLength="17.4" lengthAdjust="spacingAndGlyphs">PSY</tspan></text>
<rect x="537.5" y="579" width="1" height="16" fill="#d0d8e2"/>
<text font-size="12" fill="#1c1c24"><tspan x="506" y="591.2" font-family="'Liberation Serif',serif" textLength="23.4" lengthAdjust="spacingAndGlyphs">BOLL</tspan></text>
<rect x="571.5" y="579" width="1" height="16" fill="#d0d8e2"/>
<text font-size="12" fill="#1c1c24"><tspan x="546" y="591.2" font-family="'Liberation Serif',serif" textLength="17.4" lengthAdjust="spacingAndGlyphs">VOL</tspan></text>
<rect x="671.5" y="579" width="1" height="16" fill="#d0d8e2"/>
<text font-size="12" fill="#1c1c24"><tspan x="580" y="591.2" font-family="'Liberation Serif',serif" textLength="83.4" lengthAdjust="spacingAndGlyphs">ICHIMOKU CLOUD</tspan></text>
<rect x="711.5" y="579" width="1" height="16" fill="#d0d8e2"/>
<text font-size="12" fill="#1c1c24"><tspan x="679.7" y="591.4" font-family="'Noto Serif CJK SC',serif" font-weight="500">设置</tspan></text>
<rect x="20" y="578.6" width="1" height="16.4" fill="#d0d8e2"/>
<defs><filter id="wm" x="-5%" y="-10%" width="110%" height="130%"><feDropShadow dx="1" dy="1" stdDeviation="0.25" flood-color="#a87850" flood-opacity="0.6"/></filter></defs>
<text x="840.7" y="570.4" font-size="31.3" fill="#d6e6f6" filter="url(#wm)" font-family="'Liberation Sans',sans-serif" textLength="99.5" lengthAdjust="spacing">FX678</text>
</svg></body></html>
